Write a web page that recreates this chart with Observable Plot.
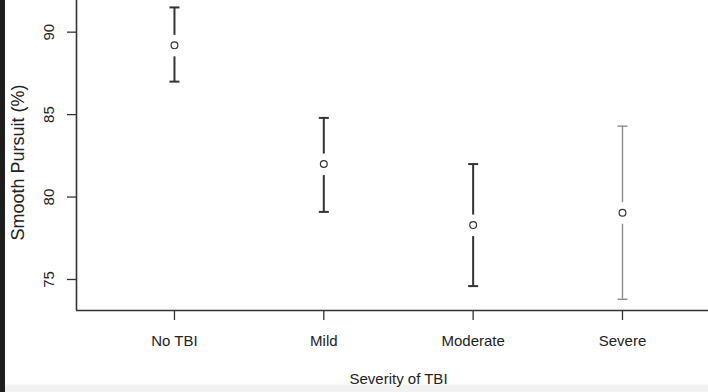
<!DOCTYPE html>
<html>
<head>
<meta charset="utf-8">
<script src="https://cdn.jsdelivr.net/npm/d3@7"></script>
<script src="https://cdn.jsdelivr.net/npm/@observablehq/plot@0.6"></script>
<style>
html, body { margin: 0; padding: 0; background: #fff; }
#chart svg { display: block; }
</style>
</head>
<body>
<div id="chart"></div>
<script>
// ---- data ----
const categories = ["No TBI", "Mild", "Moderate", "Severe"];
const means = [89.2, 82.0, 78.3, 79.05];
const upper = [91.5, 84.8, 82.0, 84.3];
const lower = [87.0, 79.1, 74.6, 73.8];
const yTicks = [75, 80, 85, 90];
const xTickIndex = [1, 2, 3, 4];
const barColors = ["#333333", "#333333", "#333333", "#8c8c8c"];
const barWidths = [2, 2, 2, 1.4];

// ---- scale extents (axis limits of the cropped R plot) ----
const yDomain = [73.12, 91.92];
const xDomain = [0.344, 4.576];

const data = categories.map((c, k) => ({
  i: k + 1, cat: c, mean: means[k], hi: upper[k], lo: lower[k],
  color: barColors[k], sw: barWidths[k]
}));

// horizontal cap symbol for the error bars
const capSymbol = {
  draw(ctx, size) {
    const r = Math.sqrt(size / Math.PI);
    ctx.moveTo(-r, 0);
    ctx.lineTo(r, 0);
  }
};

const ink = "#333333";
const textInk = "#222222";

const chart = Plot.plot({
  width: 708,
  height: 392,
  marginTop: 0,
  marginRight: 0,
  marginBottom: 82,
  marginLeft: 76,
  style: { fontFamily: "'Liberation Sans', Arial, sans-serif", color: textInk },
  x: { type: "linear", domain: xDomain },
  y: { type: "linear", domain: yDomain },
  color: { type: "identity" },
  marks: [
    // axis lines (L-shaped box)
    Plot.ruleY([yDomain[0]], { stroke: ink, strokeWidth: 1.6 }),
    Plot.ruleX([xDomain[0]], { stroke: ink, strokeWidth: 1.6 }),
    // y ticks (lines only) and rotated labels
    Plot.axisY(yTicks, { tickSize: 9, stroke: ink, strokeWidth: 1.3, fill: "none", label: null }),
    Plot.text(yTicks, {
      y: d => d, text: d => String(d), frameAnchor: "left", dx: -27.5,
      rotate: -90, textAnchor: "middle", lineAnchor: "middle", fontSize: 15, fill: textInk
    }),
    // x ticks with category labels
    Plot.axisX(xTickIndex, {
      tickSize: 10, tickPadding: 15, stroke: ink, strokeWidth: 1.3,
      tickFormat: i => categories[i - 1], fontSize: 15, fill: textInk, label: null
    }),
    // axis titles
    Plot.text(["Severity of TBI"], {
      frameAnchor: "bottom", dx: 6, dy: 69, textAnchor: "middle", lineAnchor: "middle", fontSize: 15, fill: textInk
    }),
    Plot.text(["Smooth Pursuit (%)"], {
      frameAnchor: "left", dx: -58, dy: 7, rotate: -90, textAnchor: "middle", lineAnchor: "middle", fontSize: 18, fill: textInk
    }),
    // error bars with a gap around the mean
    Plot.ruleX(data, { x: "i", y1: "hi", y2: "mean", insetBottom: 10, stroke: "color", strokeWidth: "sw" }),
    Plot.ruleX(data, { x: "i", y1: "mean", y2: "lo", insetTop: 11.5, stroke: "color", strokeWidth: "sw" }),
    Plot.dot(data, { x: "i", y: "hi", symbol: capSymbol, r: 5, fill: "none", stroke: "color", strokeWidth: "sw" }),
    Plot.dot(data, { x: "i", y: "lo", symbol: capSymbol, r: 5, fill: "none", stroke: "color", strokeWidth: "sw" }),
    // means
    Plot.dot(data, { x: "i", y: "mean", r: 3.4, fill: "white", stroke: ink, strokeWidth: 1.2 })
  ]
});

chart.style.background =
  "linear-gradient(to right, #1e1e1e 0px, #1e1e1e 5px, transparent 5px), " +
  "linear-gradient(to bottom, #ffffff 0px, #ffffff 383px, #f1f1f1 386px, #f1f1f1 392px)";
document.getElementById("chart").appendChild(chart);
</script>
</body>
</html>
